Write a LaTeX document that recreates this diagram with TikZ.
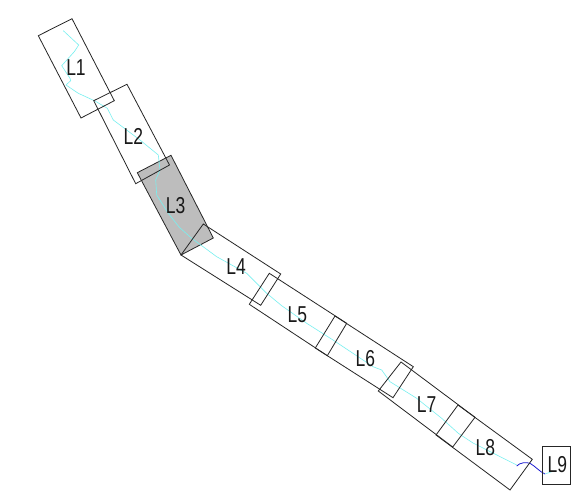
\documentclass[tikz,border=0pt]{standalone}
\usepackage{fontspec}
\setmainfont{Liberation Sans}
\definecolor{paleaqua}{RGB}{120,240,240}
\definecolor{deepblue}{RGB}{30,30,210}
\begin{document}
\begin{tikzpicture}[x=1bp,y=-1bp,
  linkbox/.style={draw=black!85,line width=0.8bp,line join=miter},
  heavy/.style={linkbox,fill=black!26},
  lab/.style={inner sep=0pt,font=\fontsize{23bp}{25bp}\selectfont,xscale=0.76,text=black!90},
  trace/.style={draw=paleaqua,line width=0.6bp},
  tracedark/.style={draw=deepblue,line width=0.8bp}]
\useasboundingbox (0,0) rectangle (588,496);
\fill[white] (0,0) rectangle (588,496);
% filled link
\draw[heavy] (137.3,172.7)--(171,155.3)--(213.3,238)--(181,255)--cycle;
% traced path
\draw[trace] (63.3,30.7)--(78.7,45)--(74.3,51.7)--(61.7,65.7)--(70,78.3)--(70.7,80.7)--(66,85)--(78.3,93.3)--(95,101)--(107.3,108.3)--(113.3,120)--(140,140)--(158.3,155)--(160,170)--(155.7,180)--(156.7,195)--(168.3,213.3)--(179.3,227.3)--(191.7,238.3)--(216.7,256.7)--(246.7,273.3)--(266.7,293.3)--(281.7,305.7)--(306.7,323.3)--(333,340)--(373,366.7)--(381.7,370)--(390,381.7)--(416.7,398.3)--(441.7,418.3)--(458.3,433.3)--(473,443)--(516.7,465);
\draw[trace] (545,474)--(551.7,471.7);
\draw[tracedark] (516.7,466) .. controls (520,462.5) and (526,462) .. (530,463.3) .. controls (535,466) and (540,472) .. (545,474);
% link outlines
\draw[linkbox] (38.3,35.7)--(72,18.7)--(114.3,100.7)--(81,118)--cycle;
\draw[linkbox] (93.7,100.7)--(127,84.3)--(169.5,165)--(135.7,183.7)--cycle;
\draw[linkbox] (181,255)--(203.3,224)--(280.7,274)--(260.7,305.3)--cycle;
\draw[linkbox] (269.3,273.3)--(346.7,323.3)--(327.3,355.7)--(249.3,304.3)--cycle;
\draw[linkbox] (335,316)--(413.3,366.7)--(393,397.7)--(315.3,348)--cycle;
\draw[linkbox] (401,362)--(475,417.3)--(452.7,447)--(378.3,391)--cycle;
\draw[linkbox] (458,405)--(532.3,459.3)--(510,490)--(436,435)--cycle;
\draw[linkbox] (542.3,446.3) rectangle (570,484.3);
% labels
\node[lab] (l1) at (76,68) {L1};
\node[lab] (l2) at (133.3,136.7) {L2};
\node[lab] (l3) at (175.7,205.7) {L3};
\node[lab] (l4) at (236,266.7) {L4};
\node[lab] (l5) at (297.3,314.3) {L5};
\node[lab] (l6) at (365.3,359) {L6};
\node[lab] (l7) at (426.7,404.3) {L7};
\node[lab] (l8) at (485.3,447.7) {L8};
\node[lab] (l9) at (557.3,464.7) {L9};
\end{tikzpicture}
\end{document}
